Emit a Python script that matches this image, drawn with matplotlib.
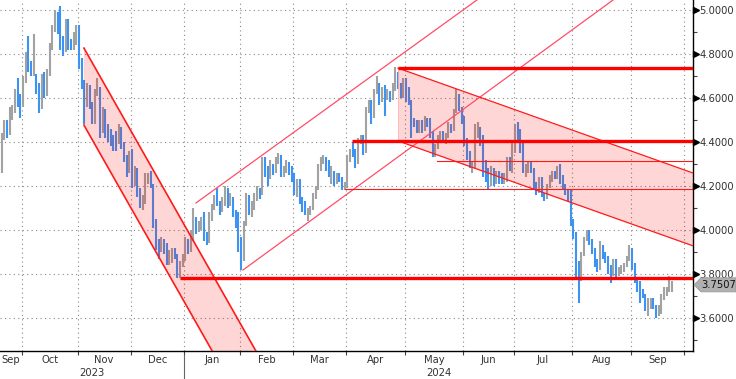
import numpy as np
import pandas as pd
import matplotlib
matplotlib.use("Agg")
import matplotlib.pyplot as plt
from matplotlib.patches import Polygon
import matplotlib.transforms as mtransforms

# US bond market holidays skipped on the axis
holidays = ["2023-10-09", "2023-11-10", "2023-11-23", "2023-12-25", "2024-01-01",
            "2024-01-15", "2024-02-19", "2024-03-29", "2024-05-27", "2024-06-19",
            "2024-07-04", "2024-09-02"]

# daily high / low / close, Sep 20 2023 .. Sep 24 2024
highs = [
    4.44, 4.50, 4.50, 4.56, 4.57, 4.64, 4.69, 4.62,
    4.70, 4.81, 4.88, 4.77, 4.89, 4.71, 4.67, 4.71, 4.72, 4.73, 4.85, 4.93, 5.00, 4.99, 5.02, 4.88, 4.96, 4.96, 4.87, 4.90, 4.93,
    4.93, 4.78, 4.68, 4.67, 4.66, 4.58, 4.64, 4.69, 4.65, 4.56, 4.55, 4.48, 4.46, 4.43, 4.45, 4.48, 4.47, 4.40, 4.34, 4.36,
    4.37, 4.29, 4.28, 4.19, 4.16, 4.26, 4.26, 4.27, 4.21, 4.05, 3.96, 3.97, 3.96, 3.94, 3.91, 3.92, 3.92, 3.89, 3.86, 3.89,
    3.97, 3.96, 4.00, 4.10, 4.06, 4.04, 4.06, 4.08, 3.99, 4.08, 4.12, 4.16, 4.19, 4.13, 4.15, 4.20, 4.19, 4.17, 4.15, 4.09, 4.08,
    3.97, 4.04, 4.17, 4.16, 4.13, 4.17, 4.20, 4.19, 4.33, 4.33, 4.29, 4.32, 4.30, 4.33, 4.35, 4.34, 4.29, 4.32, 4.31, 4.29,
    4.26, 4.23, 4.23, 4.15, 4.13, 4.10, 4.11, 4.17, 4.20, 4.30, 4.33, 4.34, 4.33, 4.32, 4.29, 4.27, 4.26, 4.26, 4.24, 4.22,
    4.34, 4.37, 4.40, 4.37, 4.42, 4.43, 4.43, 4.56, 4.59, 4.59, 4.64, 4.70, 4.67, 4.65, 4.66, 4.64, 4.63, 4.67, 4.74, 4.72, 4.67, 4.69,
    4.69, 4.65, 4.59, 4.51, 4.50, 4.50, 4.50, 4.52, 4.51, 4.51, 4.45, 4.39, 4.43, 4.45, 4.45, 4.44, 4.49, 4.48, 4.55, 4.64, 4.62, 4.56,
    4.52, 4.42, 4.36, 4.31, 4.48, 4.49, 4.47, 4.43, 4.32, 4.28, 4.29, 4.28, 4.27, 4.27, 4.26, 4.26, 4.33, 4.33, 4.40,
    4.48, 4.49, 4.46, 4.40, 4.30, 4.31, 4.31, 4.28, 4.22, 4.24, 4.24, 4.17, 4.21, 4.25, 4.27, 4.27, 4.29, 4.30, 4.25, 4.21, 4.18, 4.18,
    4.05, 3.99, 3.86, 3.90, 3.97, 4.00, 4.00, 3.96, 3.92, 3.87, 3.95, 3.93, 3.90, 3.88, 3.84, 3.87, 3.87, 3.83, 3.84, 3.85, 3.88, 3.93,
    3.92, 3.85, 3.78, 3.77, 3.73, 3.71, 3.69, 3.69, 3.69, 3.66, 3.66, 3.71, 3.74, 3.74, 3.79, 3.77,
]
lows = [
    4.26, 4.41, 4.42, 4.43, 4.50, 4.53, 4.56, 4.51,
    4.56, 4.67, 4.72, 4.70, 4.70, 4.62, 4.53, 4.55, 4.60, 4.61, 4.70, 4.82, 4.90, 4.89, 4.82, 4.79, 4.81, 4.82, 4.82, 4.82, 4.84,
    4.73, 4.64, 4.48, 4.56, 4.55, 4.48, 4.48, 4.61, 4.42, 4.44, 4.42, 4.40, 4.38, 4.36, 4.36, 4.39, 4.37, 4.31, 4.24, 4.26,
    4.19, 4.20, 4.15, 4.10, 4.09, 4.12, 4.21, 4.19, 4.01, 3.91, 3.87, 3.90, 3.89, 3.84, 3.84, 3.85, 3.87, 3.78, 3.78, 3.83,
    3.86, 3.89, 3.90, 3.95, 3.98, 3.99, 4.00, 3.95, 3.93, 3.94, 4.04, 4.09, 4.11, 4.07, 4.08, 4.11, 4.10, 4.11, 4.06, 4.01, 3.90,
    3.82, 3.86, 4.02, 4.07, 4.06, 4.09, 4.13, 4.14, 4.16, 4.24, 4.20, 4.23, 4.25, 4.26, 4.30, 4.24, 4.24, 4.26, 4.25, 4.22,
    4.16, 4.15, 4.12, 4.08, 4.07, 4.04, 4.07, 4.09, 4.14, 4.18, 4.27, 4.30, 4.27, 4.24, 4.21, 4.20, 4.21, 4.22, 4.18, 4.18,
    4.19, 4.31, 4.33, 4.28, 4.30, 4.39, 4.34, 4.35, 4.53, 4.48, 4.51, 4.62, 4.57, 4.58, 4.52, 4.59, 4.58, 4.59, 4.63, 4.64, 4.60, 4.60,
    4.58, 4.57, 4.42, 4.47, 4.44, 4.44, 4.44, 4.45, 4.47, 4.42, 4.33, 4.33, 4.37, 4.41, 4.40, 4.39, 4.42, 4.44, 4.45, 4.53, 4.54, 4.48,
    4.38, 4.32, 4.28, 4.26, 4.28, 4.42, 4.38, 4.24, 4.22, 4.18, 4.20, 4.20, 4.21, 4.21, 4.21, 4.21, 4.22, 4.27, 4.26,
    4.35, 4.41, 4.35, 4.26, 4.24, 4.26, 4.26, 4.18, 4.16, 4.17, 4.15, 4.13, 4.14, 4.19, 4.22, 4.23, 4.23, 4.21, 4.18, 4.16, 4.13, 4.02,
    3.96, 3.78, 3.67, 3.77, 3.88, 3.95, 3.93, 3.89, 3.83, 3.81, 3.82, 3.87, 3.85, 3.80, 3.76, 3.79, 3.78, 3.79, 3.80, 3.81, 3.83, 3.86,
    3.82, 3.76, 3.72, 3.67, 3.69, 3.63, 3.61, 3.64, 3.64, 3.60, 3.61, 3.62, 3.68, 3.70, 3.72, 3.72,
]
closes = [
    4.41, 4.49, 4.44, 4.54, 4.55, 4.62, 4.58, 4.57,
    4.68, 4.80, 4.73, 4.72, 4.78, 4.65, 4.56, 4.70, 4.62, 4.71, 4.83, 4.91, 4.99, 4.91, 4.84, 4.82, 4.95, 4.85, 4.84, 4.88, 4.93,
    4.77, 4.67, 4.57, 4.65, 4.57, 4.49, 4.63, 4.64, 4.45, 4.54, 4.45, 4.44, 4.42, 4.41, 4.40, 4.47, 4.39, 4.33, 4.27, 4.35,
    4.22, 4.27, 4.17, 4.11, 4.13, 4.24, 4.24, 4.20, 4.02, 3.92, 3.91, 3.95, 3.93, 3.86, 3.89, 3.90, 3.89, 3.79, 3.85, 3.88,
    3.94, 3.91, 3.99, 4.05, 4.01, 4.02, 4.03, 3.97, 3.94, 4.06, 4.10, 4.14, 4.12, 4.10, 4.13, 4.18, 4.12, 4.14, 4.08, 4.03, 3.91,
    3.87, 4.03, 4.16, 4.09, 4.10, 4.16, 4.18, 4.17, 4.31, 4.26, 4.24, 4.28, 4.27, 4.32, 4.33, 4.25, 4.28, 4.31, 4.27, 4.25,
    4.18, 4.22, 4.14, 4.10, 4.08, 4.08, 4.10, 4.15, 4.19, 4.29, 4.31, 4.32, 4.30, 4.27, 4.27, 4.22, 4.25, 4.23, 4.19, 4.20,
    4.33, 4.36, 4.35, 4.31, 4.40, 4.42, 4.36, 4.55, 4.59, 4.52, 4.63, 4.67, 4.59, 4.64, 4.62, 4.62, 4.60, 4.65, 4.70, 4.67, 4.61, 4.68,
    4.63, 4.58, 4.50, 4.49, 4.46, 4.49, 4.46, 4.50, 4.48, 4.44, 4.34, 4.38, 4.42, 4.44, 4.41, 4.43, 4.47, 4.46, 4.54, 4.61, 4.55, 4.50,
    4.40, 4.33, 4.29, 4.29, 4.43, 4.47, 4.40, 4.31, 4.24, 4.21, 4.28, 4.22, 4.26, 4.25, 4.23, 4.23, 4.32, 4.29, 4.36,
    4.47, 4.43, 4.36, 4.27, 4.28, 4.30, 4.28, 4.20, 4.18, 4.23, 4.16, 4.15, 4.20, 4.24, 4.26, 4.25, 4.28, 4.24, 4.20, 4.17, 4.14, 4.03,
    3.98, 3.79, 3.78, 3.89, 3.96, 3.99, 3.94, 3.90, 3.85, 3.83, 3.91, 3.89, 3.87, 3.81, 3.80, 3.86, 3.80, 3.82, 3.83, 3.84, 3.87, 3.91,
    3.84, 3.77, 3.73, 3.71, 3.70, 3.65, 3.65, 3.68, 3.65, 3.62, 3.64, 3.70, 3.71, 3.73, 3.75, 3.7507,
]
last_price = 3.7507

# drawn trend annotations: (bar index, level)
chan1_upper = [(30.9, 4.827), (100.0, 3.356)]
chan1_width = 0.350
chan2_upper = [(73.05, 4.123), (178.7, 5.0455)]
chan2_lower = [(90.7, 3.818), (229.9, 5.0455)]
chan3_upper = [(149.0, 4.736), (259.96, 4.259)]
chan3_width = 0.331
thick_levels = [(149.0, 4.736), (131.7, 4.405), (67.0, 3.784)]
thin_levels = [(163.6, 4.314), (129.0, 4.186)]

days = pd.bdate_range("2023-09-20", "2024-10-04")
days = days[~days.isin(pd.to_datetime(holidays))]
n = len(closes)
x = np.arange(n)
closes_a = np.array(closes)
up = np.r_[True, np.diff(closes_a) >= 0]

W, H = 736, 379
fig = plt.figure(figsize=(W / 100, H / 100), dpi=100)
ax = fig.add_axes([0, 28 / H, 693 / W, 351 / H])
xmin, xmax = -0.66, 259.96
ax.set_xlim(xmin, xmax)
ax.set_ylim(3.45, 5.0455)

blue, grey = "#3d93f2", "#a2a2a2"
cols = [grey if u else blue for u in up]
ax.vlines(x, lows, highs, colors=cols, linewidth=1.5, zorder=2)

red = "#ff1a1a"
# channel 1 (Oct-Jan, filled)
(a0, v0), (a1, v1) = chan1_upper
xs = np.array([a0, a1])
ax.plot(xs, [v0, v1], color=red, lw=1.2, zorder=4)
ax.plot(xs, [v0 - chan1_width, v1 - chan1_width], color=red, lw=1.2, zorder=4)
ax.fill_between(xs, [v0, v1], [v0 - chan1_width, v1 - chan1_width],
                color="red", alpha=0.16, lw=0, zorder=3)
# channel 2 (Jan-Apr, lines only)
for pts in (chan2_upper, chan2_lower):
    (a0, v0), (a1, v1) = pts
    ax.plot([a0, a1], [v0, v1], color="#ff4d66", lw=0.9, zorder=4)
# channel 3 (Apr onwards, filled)
(a0, v0), (a1, v1) = chan3_upper
xs = np.array([a0, a1])
ax.plot(xs, [v0, v1], color=red, lw=0.9, zorder=4)
ax.plot(xs, [v0 - chan3_width, v1 - chan3_width], color=red, lw=0.9, zorder=4)
ax.fill_between(xs, [v0, v1], [v0 - chan3_width, v1 - chan3_width],
                color="red", alpha=0.16, lw=0, zorder=3)
ax.plot([a0, a0], [v0, v0 - chan3_width], color="#ffb0b0", lw=0.6, zorder=3)

for start, lev in thick_levels:
    ax.plot([start, xmax], [lev, lev], color="#ff0000", lw=2.4, zorder=5,
            solid_capstyle="butt")
for start, lev in thin_levels:
    ax.plot([start, xmax], [lev, lev], color=red, lw=0.8, zorder=5)

# axes styling
for s in ("top", "left"):
    ax.spines[s].set_visible(False)
ax.spines["right"].set_linewidth(1.0)
ax.spines["bottom"].set_linewidth(1.0)

fs = 7.2
yt = np.arange(3.6, 5.01, 0.2)
ax.yaxis.tick_right()
ax.set_yticks(yt)
ax.set_yticklabels([f"{v:.4f}" for v in yt])
ax.set_yticks(np.arange(3.5, 5.05, 0.1), minor=True)
ax.tick_params(axis="y", which="major", length=0, pad=4.5, labelsize=fs,
               labelcolor="#333333")
ax.tick_params(axis="y", which="minor", length=3, width=0.8, color="#444444")
trans = mtransforms.blended_transform_factory(ax.transAxes, ax.transData)
ax.plot(np.full(len(yt), 1.004), yt, ">", color="black", ms=4.0,
        transform=trans, clip_on=False, zorder=6)

# month ticks / labels
starts = [i for i in range(1, len(days)) if days[i].month != days[i - 1].month]
ticks = [s - 0.5 for s in starts if s - 0.5 < xmax]
ax.set_xticks(ticks)
ax.set_xticklabels([])
ax.tick_params(axis="x", which="major", length=3, width=0.8, color="#444444")
bounds = [xmin] + ticks
mids = [(bounds[k] + bounds[k + 1]) / 2 for k in range(len(bounds) - 1)]
names = ["Sep"] + [days[s].strftime("%b") for s in starts][:len(mids) - 1]
xtrans = mtransforms.blended_transform_factory(ax.transData, ax.transAxes)
for m, nm in zip(mids, names):
    ax.text(m, -0.026, nm, transform=xtrans, ha="center", va="center",
            fontsize=fs, color="#333333")
jan_tick = [t for t, s in zip(ticks, starts) if days[s].month == 1][0]
ax.text((xmin + jan_tick) / 2, -0.062, "2023", transform=xtrans, ha="center",
        va="center", fontsize=fs, color="#333333")
ax.text((jan_tick + xmax) / 2, -0.062, "2024", transform=xtrans, ha="center",
        va="center", fontsize=fs, color="#333333")
ax.plot([jan_tick, jan_tick], [-0.012, -0.09], color="#666666", lw=0.8,
        transform=xtrans, clip_on=False)

ax.grid(True, which="major", color="#888888", linestyle=(0, (1, 3)), lw=0.8)
ax.set_axisbelow(True)

# last price marker
fig.canvas.draw()
py = ax.transData.transform((0, last_price))[1]
px = 694
poly = Polygon([(px, py), (px + 7, py + 7), (W, py + 7), (W, py - 7), (px + 7, py - 7)],
               closed=True, transform=None, facecolor="#b0b0b0",
               edgecolor="#9a9a9a", lw=0.6, zorder=10)
fig.patches.append(poly)
fig.text((px + 7) / W, py / H, f"{last_price:.4f}", ha="left", va="center",
         fontsize=fs, color="#111111", zorder=11)

fig.savefig("out.png", dpi=100)
